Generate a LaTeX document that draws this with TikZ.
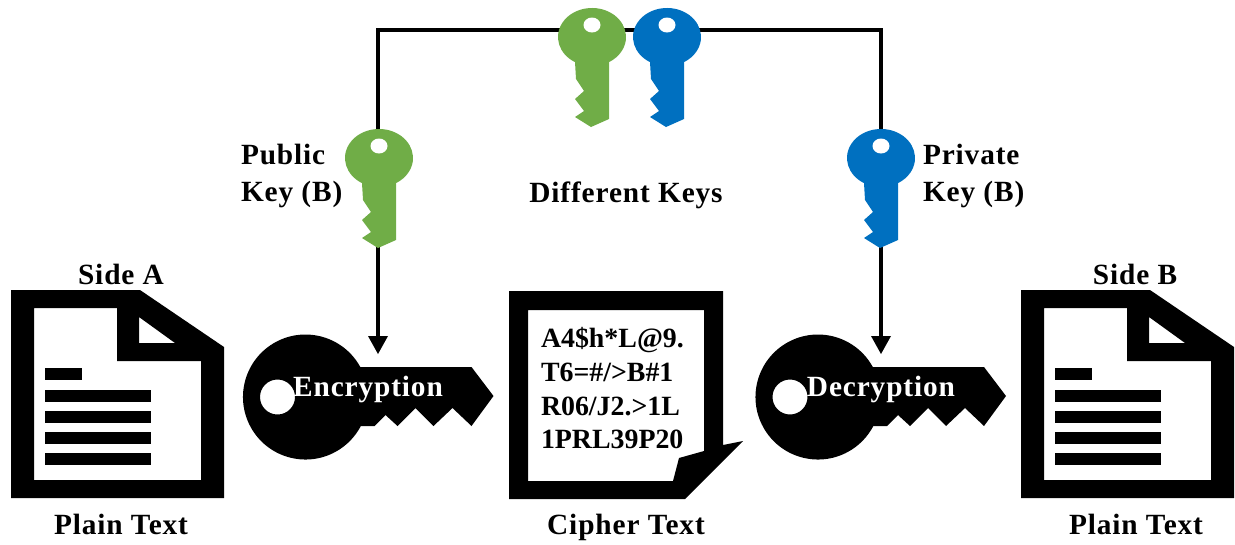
\documentclass[tikz,border=0pt]{standalone}
\usepackage{fontspec}
\setmainfont{Liberation Serif}[BoldFont={Liberation Serif Bold}]
\definecolor{keygreen}{HTML}{70AD47}
\definecolor{keyblue}{HTML}{0070C0}
\newcommand{\lblfont}{\fontsize{22}{26}\selectfont\bfseries\addfontfeature{LetterSpace=3}}
\newcommand{\ciphfont}{\fontsize{20.9}{24}\selectfont\bfseries}
\tikzset{
  lbl/.style={inner sep=0pt,outer sep=0pt,anchor=base,font=\lblfont},
  lblw/.style={lbl,anchor=base west},
  ciph/.style={inner sep=0pt,outer sep=0pt,anchor=base west,font=\ciphfont},
  wire/.style={line width=2.5pt,black},
  pics/smallkey/.style={code={
    \fill[#1]
      (-17,25.1) arc[start angle=120,end angle=420,x radius=34,y radius=29] -- (17,82) -- (-1,90) -- (-17,80)
      -- (-8,74) -- (-17,62) -- (-8,54) -- (-16,42) -- cycle;
    \fill[white] (0,-12) ellipse[x radius=8.5,y radius=7.5];
  }},
  pics/bigkey/.style={code={
    \fill[black,even odd rule]
      (54.8,-30) arc[start angle=331.3,end angle=27.7,radius=62.5]
      -- (69,29) -- (80,18) -- (92,29) -- (110,11) -- (128,29) -- (147,11) -- (166,29) -- (188,-1) -- (166,-30) -- cycle
      (-28,0) circle[radius=17.5];
  }},
  pics/plaindoc/.style={code={
    \fill[black,even odd rule]
      (11,290) -- (140,290) -- (224,347) -- (224,498) -- (11,498) -- cycle
      (34,308) -- (117,308) -- (117,361) -- (201,361) -- (201,480) -- (34,480) -- cycle
      (139,317) -- (139,343) -- (175,343) -- cycle;
    \fill[black] (45,368) rectangle (82,380);
    \foreach \yy in {390,411,432,453} \fill[black] (45,\yy) rectangle (151,\yy+12);
  }}
}
\begin{document}
\begin{tikzpicture}[x=0.75pt,y=-0.75pt]
\useasboundingbox (0,0) rectangle (1235,544);
% key anchors
\coordinate (pubtop) at (378,135);
\coordinate (privtop) at (881,135);
\coordinate (pubbot) at (378,246);
\coordinate (privbot) at (881,246);
% connectors
\draw[wire] (pubtop) -- (pubtop |- 0,30) -- (privtop |- 0,30) -- (privtop);
\draw[wire] (pubbot) -- (378,338);
\fill[black] (368,336) -- (388,336) -- (378,354) -- cycle;
\draw[wire] (privbot) -- (881,338);
\fill[black] (871,336) -- (891,336) -- (881,354) -- cycle;
% small keys
\pic at (379,158) {smallkey=keygreen};
\pic at (881,158) {smallkey=keyblue};
\pic at (592,37) {smallkey=keygreen};
\pic at (667,37) {smallkey=keyblue};
% big keys
\pic at (305.5,397) {bigkey};
\pic at (818,397) {bigkey};
% documents
\pic at (0,0) {plaindoc};
\pic at (1010,0) {plaindoc};
\fill[black,even odd rule]
  (509,291) -- (723,291) -- (723,445) -- (743,441) -- (685,499) -- (509,499) -- cycle
  (528,310) -- (704,310) -- (704,451) -- (679,458) -- (673,481) -- (528,481) -- cycle;
% labels
\node[lbl] (sidea) at (121,284) {Side A};
\node[lbl] (sideb) at (1135,284) {Side B};
\node[lbl] (pta) at (121,534) {Plain Text};
\node[lbl] (ptb) at (1136,534) {Plain Text};
\node[lbl] (ct) at (626,534) {Cipher Text};
\node[lbl] (dk) at (626,202) {Different Keys};
\node[lbl,text=white] (enc) at (368,396) {Encryption};
\node[lbl,text=white] (dec) at (881,396) {Decryption};
\node[lblw] (pub1) at (241,164) {Public};
\node[lblw] (pub2) at (241,201) {Key (B)};
\node[lblw] (priv1) at (923,164) {Private};
\node[lblw] (priv2) at (923,201) {Key (B)};
\node[ciph] (c1) at (541,347) {A4\$h*L@9.};
\node[ciph] (c2) at (541,381) {T6=\#/>B\#1};
\node[ciph] (c3) at (541,415) {R06/J2.>1L};
\node[ciph] (c4) at (541,448) {1PRL39P20};
\end{tikzpicture}
\end{document}
